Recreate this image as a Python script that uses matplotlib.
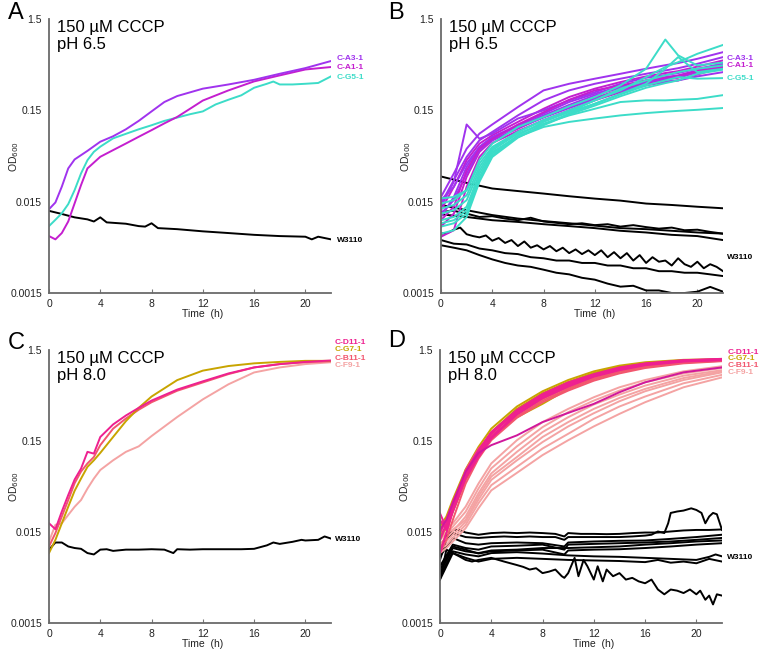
import numpy as np
import matplotlib
matplotlib.use('Agg')
import matplotlib.pyplot as plt

plt.rcParams['font.family'] = ['Liberation Sans', 'DejaVu Sans']

# ---------------- colours ----------------
VIOLET = '#A033EE'
MAGENTA = '#C41ECF'
TURQ = '#3CDCC8'
PINK = '#EE2090'
DMAG = '#D0189C'
GOLD = '#C8A400'
CORAL = '#F2566E'
LPINK = '#F4A3A3'
BLACK = '#000000'

# ---------------- axis ticks ----------------
y_ticks = [0.0015, 0.015, 0.15, 1.5]
y_tick_labels = ['0.0015', '0.015', '0.15', '1.5']
x_ticks = [0, 4, 8, 12, 16, 20]

# ================= Panel A =================
a_t_A3 = [0, 0.5, 1, 1.5, 2, 3, 4, 5, 6, 7, 8, 9, 10, 11, 12, 14, 16, 18, 20, 22]
a_A3 = [0.0124, 0.0147, 0.0219, 0.0347, 0.0435, 0.054, 0.068, 0.078, 0.093, 0.115,
        0.146, 0.185, 0.215, 0.236, 0.259, 0.288, 0.324, 0.377, 0.435, 0.52]
a_t_A1 = [0, 0.5, 1, 1.5, 2, 2.5, 3, 4, 5, 6, 7, 8, 9, 10, 11, 12, 14, 16, 18, 20, 22]
a_A1 = [0.0063, 0.0058, 0.0068, 0.0091, 0.0144, 0.0228, 0.0347, 0.0465, 0.055, 0.065,
        0.077, 0.091, 0.108, 0.127, 0.156, 0.192, 0.248, 0.311, 0.362, 0.42, 0.447]
a_t_G5 = [0, 0.5, 1, 1.5, 2, 2.5, 3, 3.5, 4, 5, 6, 7, 8, 9, 10, 11, 12, 13, 14, 15,
          16, 17, 17.5, 18, 19, 20, 21, 22]
a_G5 = [0.0081, 0.0095, 0.0112, 0.0141, 0.0201, 0.0306, 0.0427, 0.0527, 0.060, 0.074,
        0.083, 0.093, 0.103, 0.115, 0.125, 0.136, 0.146, 0.174, 0.196, 0.219,
        0.265, 0.293, 0.31, 0.288, 0.288, 0.293, 0.299, 0.353]
a_t_W = [0, 1, 2, 3, 3.5, 4, 4.5, 6, 7, 7.5, 8, 8.5, 10, 12, 14, 16, 18, 20, 20.5, 21, 22]
a_W = [0.0119, 0.011, 0.0101, 0.0096, 0.0091, 0.0101, 0.0089, 0.0086, 0.0081, 0.008,
       0.0087, 0.0077, 0.0075, 0.0071, 0.0068, 0.0065, 0.0063, 0.0062, 0.0058, 0.0062, 0.0058]

# ================= Panel B =================
b_t = [0, 1, 2, 3, 4, 6, 8, 10, 12, 14, 16, 17.5, 18.5, 20, 22]
b_P1 = [0.0169, 0.0305, 0.057, 0.0834, 0.105, 0.163, 0.248, 0.293, 0.333, 0.377, 0.428, 0.468, 0.494, 0.55, 0.65]
b_P2 = [0.0143, 0.0258, 0.0463, 0.0705, 0.087, 0.132, 0.193, 0.248, 0.293, 0.333, 0.377, 0.41, 0.434, 0.485, 0.574]
b_P3 = [0.0121, 0.0218, 0.0426, 0.0648, 0.080, 0.112, 0.156, 0.210, 0.259, 0.306, 0.353, 0.384, 0.403, 0.452, 0.528]
b_P4 = [0.0102, 0.0169, 0.036, 0.0596, 0.0767, 0.103, 0.138, 0.185, 0.228, 0.274, 0.319, 0.347, 0.362, 0.410, 0.494]
b_P5 = [0.0080, 0.0111, 0.028, 0.0526, 0.0705, 0.0945, 0.127, 0.166, 0.206, 0.252, 0.298, 0.325, 0.341, 0.393, 0.465]
b_P6 = [0.0062, 0.0073, 0.0218, 0.0463, 0.0659, 0.089, 0.117, 0.15, 0.193, 0.237, 0.281, 0.306, 0.319, 0.370, 0.446]
b_P7 = [0.0132, 0.0248, 0.105, 0.0733, 0.0834, 0.122, 0.15, 0.193, 0.237, 0.293, 0.341, 0.365, 0.384, 0.428, 0.485]
b_P8 = [0.0156, 0.0218, 0.0392, 0.0596, 0.0754, 0.100, 0.132, 0.172, 0.219, 0.265, 0.306, 0.33, 0.347, 0.389, 0.428]
b_P9 = [0.0111, 0.0156, 0.0305, 0.0548, 0.0705, 0.0965, 0.125, 0.159, 0.200, 0.244, 0.288, 0.309, 0.319, 0.353, 0.393]
b_P10 = [0.0094, 0.0132, 0.0331, 0.057, 0.073, 0.105, 0.143, 0.196, 0.248, 0.281, 0.319, 0.341, 0.358, 0.403, 0.452]
b_purple_series = [b_P1, b_P2, b_P3, b_P4, b_P5, b_P6, b_P7, b_P8, b_P9, b_P10]
b_purple_colors = [VIOLET, VIOLET, MAGENTA, VIOLET, MAGENTA, MAGENTA, VIOLET, VIOLET, VIOLET, MAGENTA]

b_T1 = [0.0163, 0.0169, 0.0200, 0.0426, 0.0648, 0.0986, 0.127, 0.166, 0.210, 0.281, 0.428, 0.894, 0.60, 0.465, 0.50]
b_T2 = [0.0143, 0.0156, 0.0200, 0.0392, 0.0596, 0.087, 0.117, 0.15, 0.193, 0.248, 0.347, 0.446, 0.505, 0.624, 0.78]
b_T3 = [0.0126, 0.0138, 0.0176, 0.036, 0.057, 0.087, 0.117, 0.144, 0.177, 0.228, 0.293, 0.428, 0.574, 0.393, 0.428]
b_T4 = [0.0111, 0.0121, 0.0156, 0.0331, 0.0548, 0.0834, 0.107, 0.132, 0.156, 0.185, 0.193, 0.193, 0.196, 0.20, 0.22]
b_T5 = [0.0094, 0.0102, 0.0132, 0.0305, 0.0526, 0.0767, 0.0986, 0.112, 0.122, 0.132, 0.14, 0.145, 0.148, 0.152, 0.159]
b_T6 = [0.0087, 0.0094, 0.0121, 0.028, 0.0504, 0.080, 0.112, 0.144, 0.193, 0.259, 0.319, 0.362, 0.393, 0.428, 0.465]
b_T7 = [0.0080, 0.0087, 0.0111, 0.0258, 0.0483, 0.0767, 0.105, 0.138, 0.177, 0.224, 0.281, 0.319, 0.347, 0.333, 0.338]
b_T8 = [0.0067, 0.0073, 0.0102, 0.0248, 0.0463, 0.0754, 0.103, 0.135, 0.169, 0.214, 0.265, 0.298, 0.319, 0.377, 0.418]
b_turq_series = [b_T1, b_T2, b_T3, b_T4, b_T5, b_T6, b_T7, b_T8]

b_t_2h = [0, 2, 4, 6, 8, 10, 12, 14, 16, 18, 20, 22]
b_t_1h = list(range(0, 23))
b_t_half = [i * 0.5 for i in range(45)]
b_K1 = [0.0283, 0.0241, 0.0209, 0.0196, 0.0184, 0.0172, 0.0162, 0.0154, 0.0143, 0.0138, 0.0132, 0.0127]
b_K2a = [0.0138, 0.0121, 0.0107, 0.0098, 0.0092, 0.0087, 0.0082, 0.0077, 0.0075, 0.0072, 0.0069, 0.0067]
b_K2b = [0.0116, 0.0119, 0.0111, 0.0102, 0.0104, 0.0098, 0.0094, 0.0100, 0.0091, 0.0088, 0.0085, 0.0087,
         0.0083, 0.0085, 0.0080, 0.0083, 0.0079, 0.0076, 0.0078, 0.0073, 0.0074, 0.0070, 0.0067]
b_K2c = [0.0109, 0.0102, 0.0094, 0.0090, 0.0085, 0.0081, 0.0077, 0.0072, 0.0069, 0.0065, 0.0063, 0.0057]
b_K3a = [0.0067, 0.0068, 0.0074, 0.0078, 0.0066, 0.0063, 0.0061, 0.0064, 0.0056, 0.0060,
         0.0053, 0.0057, 0.0049, 0.0055, 0.0047, 0.0050, 0.0045, 0.0049, 0.0043, 0.0047,
         0.0041, 0.0045, 0.0040, 0.0044, 0.0039, 0.0044, 0.0037, 0.0042, 0.0036, 0.0041,
         0.0034, 0.0039, 0.0032, 0.0037, 0.0033, 0.0034, 0.0030, 0.0036, 0.0031, 0.0029,
         0.0033, 0.0028, 0.0031, 0.0029, 0.0026]
b_K3b = [0.0057, 0.0052, 0.0051, 0.0046, 0.0044, 0.0041, 0.0040, 0.0037, 0.0036, 0.0034, 0.0034, 0.0032,
         0.0032, 0.0030, 0.0030, 0.0028, 0.0028, 0.0026, 0.0026, 0.0025, 0.0025, 0.0024, 0.0023]
b_K3c = [0.0050, 0.0047, 0.0044, 0.0039, 0.0035, 0.0032, 0.0030, 0.0029, 0.0027, 0.0025, 0.0024, 0.0022,
         0.0021, 0.0019, 0.00176, 0.0018, 0.0016, 0.0016, 0.0015, 0.0015, 0.00155, 0.00175, 0.00155]

# ================= Panel C =================
c_t = [0, 0.5, 1, 1.5, 2, 2.5, 3, 3.5, 4, 5, 6, 7, 8, 10, 12, 14, 16, 18, 20, 22]
c_D11 = [0.0187, 0.0161, 0.0252, 0.0382, 0.0566, 0.0747, 0.114, 0.109, 0.166, 0.228,
         0.286, 0.347, 0.417, 0.551, 0.679, 0.829, 0.965, 1.05, 1.11, 1.15]
c_G7 = [0.0088, 0.0123, 0.0187, 0.0284, 0.0426, 0.058, 0.078, 0.092, 0.111, 0.166,
        0.248, 0.347, 0.462, 0.70, 0.89, 1.0, 1.07, 1.11, 1.14, 1.14]
c_B11 = [0.0104, 0.0146, 0.0222, 0.0336, 0.0516, 0.0693, 0.085, 0.100, 0.135, 0.205,
         0.265, 0.331, 0.400, 0.535, 0.66, 0.815, 0.965, 1.05, 1.10, 1.13]
c_F9 = [0.0118, 0.018, 0.0187, 0.0231, 0.0284, 0.0337, 0.045, 0.058, 0.072, 0.092,
        0.114, 0.131, 0.17, 0.275, 0.43, 0.63, 0.85, 0.965, 1.05, 1.10]
c_t_W = [0, 0.5, 1, 1.5, 2, 2.5, 3, 3.5, 4, 4.5, 5, 6, 7, 8, 9, 9.7, 10, 11, 12, 13, 14, 15,
         16, 17, 17.5, 18, 19, 19.7, 20, 21, 21.5, 22]
c_W = [0.0096, 0.0115, 0.0115, 0.0104, 0.0100, 0.0098, 0.0088, 0.0085, 0.0096, 0.0097,
       0.0093, 0.0096, 0.0096, 0.0097, 0.0096, 0.0088, 0.0097, 0.0096, 0.0097, 0.0097,
       0.0097, 0.0097, 0.0098, 0.0107, 0.0115, 0.0111, 0.0117, 0.0123, 0.0121, 0.0123,
       0.0134, 0.0127]

# ================= Panel D =================
d_t = [0, 0.5, 1, 2, 3, 4, 6, 8, 10, 12, 14, 16, 19, 22]
d_P1 = [0.0146, 0.0204, 0.032, 0.069, 0.119, 0.188, 0.33, 0.494, 0.662, 0.816, 0.966, 1.07, 1.16, 1.20]
d_P2 = [0.0204, 0.0159, 0.0285, 0.065, 0.111, 0.180, 0.32, 0.474, 0.635, 0.795, 0.94, 1.05, 1.14, 1.18]
d_P3 = [0.0123, 0.0187, 0.031, 0.067, 0.115, 0.183, 0.324, 0.482, 0.646, 0.80, 0.95, 1.06, 1.15, 1.19]
d_P4 = [0.0088, 0.0146, 0.0262, 0.061, 0.105, 0.166, 0.303, 0.454, 0.609, 0.777, 0.92, 1.04, 1.13, 1.17]
d_P5 = [0.0241, 0.0165, 0.0251, 0.058, 0.100, 0.159, 0.293, 0.443, 0.594, 0.765, 0.90, 1.02, 1.12, 1.16]
d_P6 = [0.0159, 0.0204, 0.031, 0.069, 0.111, 0.135, 0.173, 0.242, 0.305, 0.384, 0.515, 0.662, 0.852, 0.966]
d_G1 = [0.0172, 0.0222, 0.034, 0.073, 0.129, 0.205, 0.359, 0.528, 0.702, 0.874, 1.01, 1.10, 1.17, 1.19]
d_G2 = [0.0134, 0.0172, 0.0273, 0.065, 0.117, 0.188, 0.338, 0.503, 0.668, 0.84, 0.98, 1.08, 1.15, 1.18]
d_G3 = [0.0134, 0.0165, 0.0251, 0.056, 0.100, 0.166, 0.274, 0.384, 0.56, 0.75, 0.92, 1.05, 1.13, 1.17]
d_C1 = [0.0123, 0.0172, 0.0285, 0.066, 0.117, 0.180, 0.311, 0.462, 0.625, 0.783, 0.927, 1.05, 1.13, 1.17]
d_C2 = [0.0096, 0.0146, 0.0251, 0.057, 0.105, 0.163, 0.293, 0.435, 0.584, 0.738, 0.888, 1.00, 1.11, 1.15]
d_C3 = [0.0187, 0.0204, 0.0285, 0.072, 0.124, 0.173, 0.279, 0.417, 0.56, 0.714, 0.86, 0.975, 1.09, 1.14]
d_C4 = [0.0088, 0.0123, 0.0204, 0.051, 0.096, 0.153, 0.270, 0.40, 0.537, 0.69, 0.83, 0.95, 1.07, 1.13]
d_L1 = [0.0146, 0.0165, 0.0187, 0.0285, 0.051, 0.085, 0.153, 0.242, 0.338, 0.454, 0.584, 0.702, 0.874, 0.995]
d_L2 = [0.0123, 0.0146, 0.0172, 0.0251, 0.045, 0.075, 0.131, 0.213, 0.311, 0.417, 0.537, 0.662, 0.83, 0.95]
d_L3 = [0.0113, 0.0129, 0.0152, 0.0222, 0.040, 0.066, 0.114, 0.188, 0.274, 0.378, 0.486, 0.609, 0.783, 0.90]
d_L4 = [0.0134, 0.0146, 0.0159, 0.0204, 0.037, 0.061, 0.100, 0.166, 0.242, 0.338, 0.446, 0.56, 0.738, 0.874]
d_L5 = [0.0104, 0.0118, 0.014, 0.0195, 0.034, 0.056, 0.092, 0.146, 0.217, 0.303, 0.41, 0.528, 0.702, 0.852]
d_L6 = [0.0096, 0.0108, 0.0129, 0.018, 0.031, 0.049, 0.078, 0.124, 0.18, 0.263, 0.359, 0.462, 0.646, 0.80]
d_L7 = [0.0088, 0.010, 0.0118, 0.0165, 0.0273, 0.043, 0.067, 0.105, 0.153, 0.217, 0.298, 0.40, 0.584, 0.75]

d_t_K1 = [0, 0.5, 1, 1.5, 2, 3, 4, 5, 6, 7, 8, 9, 9.7, 10, 11, 12, 13, 14, 15, 16, 17, 18, 19, 20, 21, 22]
d_K1 = [0.0081, 0.0134, 0.0158, 0.0158, 0.0148, 0.0140, 0.0146, 0.0148, 0.0146, 0.0148, 0.0146, 0.0143, 0.0134,
        0.0146, 0.0143, 0.0143, 0.0142, 0.0143, 0.0146, 0.0148, 0.0148, 0.0152, 0.0156, 0.0158, 0.0158, 0.0160]
d_t_K2 = [0, 0.5, 1, 2, 3, 4, 5, 6, 7, 8, 9, 9.7, 10, 11, 12, 13, 14, 15, 16, 16.5, 17, 17.5, 17.8, 18,
          18.5, 19, 19.6, 20, 20.4, 20.7, 21, 21.3, 21.6, 22]
d_K2 = [0.0074, 0.0123, 0.0146, 0.0132, 0.0129, 0.0132, 0.0134, 0.0132, 0.0134, 0.0132, 0.0132, 0.0123,
        0.0132, 0.0132, 0.0132, 0.0132, 0.0132, 0.0134, 0.0137, 0.0140, 0.0152, 0.0146, 0.0187, 0.0243,
        0.0252, 0.0258, 0.0273, 0.0262, 0.0243, 0.0187, 0.0222, 0.0243, 0.0235, 0.0158]
d_t_K34 = [0, 1, 2, 3, 4, 6, 8, 9.7, 10, 12, 14, 16, 18, 20, 22]
d_K3 = [0.0081, 0.0129, 0.0113, 0.0109, 0.0113, 0.0115, 0.0113, 0.0104, 0.0115, 0.0118, 0.0120, 0.0121, 0.0126, 0.0132, 0.0140]
d_K4 = [0.0063, 0.0109, 0.0100, 0.0096, 0.0104, 0.0106, 0.0109, 0.0096, 0.0109, 0.0111, 0.0113, 0.0115, 0.0118, 0.0123, 0.0129]
d_K9 = [0.0058, 0.0104, 0.0096, 0.0087, 0.0092, 0.0094, 0.0096, 0.0085, 0.0094, 0.0096, 0.0097, 0.0100, 0.0104, 0.0109, 0.0113]
d_t_K5 = [0, 1, 2, 3, 4, 6, 8, 10, 12, 14, 16, 18, 20, 22]
d_K5 = [0.0053, 0.0100, 0.0092, 0.0088, 0.0094, 0.0096, 0.0100, 0.0100, 0.0102, 0.0104, 0.0109, 0.0113, 0.0118, 0.0121]
d_t_K6 = [0, 1, 2, 3, 4, 6, 8, 10, 12, 14, 16, 18, 20, 21, 21.5, 22]
d_K6 = [0.0049, 0.0092, 0.0085, 0.0081, 0.0088, 0.0090, 0.0087, 0.0083, 0.0081, 0.0080, 0.0078, 0.0076, 0.0074, 0.0080, 0.0085, 0.0081]
d_t_K7 = [0, 1, 2, 3, 4, 6, 8, 10, 12, 14, 16, 17, 18, 19, 20, 21, 22]
d_K7 = [0.0045, 0.0088, 0.0078, 0.0071, 0.0076, 0.0078, 0.0076, 0.0074, 0.0073, 0.0072, 0.0070, 0.0074, 0.0069, 0.0071, 0.0068, 0.0076, 0.0071]
d_t_K8 = [0, 0.5, 1, 1.5, 2, 2.5, 3, 3.5, 4, 5, 6, 6.5, 7, 7.5, 8, 8.5, 9, 9.5, 9.7, 10,
          10.5, 10.8, 11.2, 11.5, 12, 12.3, 12.7, 13, 13.5, 14, 14.5, 15, 15.5, 16, 16.5, 17, 17.5, 18, 18.5, 19,
          19.5, 20, 20.3, 20.7, 21, 21.3, 21.6, 22]
d_K8 = [0.0045, 0.0096, 0.0088, 0.0081, 0.0074, 0.0071, 0.0074, 0.0076, 0.0078, 0.0071,
        0.0065, 0.0062, 0.0058, 0.0060, 0.0053, 0.0055, 0.0058, 0.0049, 0.0047, 0.0053,
        0.0078, 0.0049, 0.0074, 0.0063, 0.0045, 0.0063, 0.0043, 0.0058, 0.0049, 0.0053,
        0.0045, 0.0047, 0.0043, 0.0041, 0.0045, 0.0035, 0.0031, 0.0035, 0.0034, 0.0032,
        0.0035, 0.0031, 0.0034, 0.0027, 0.0030, 0.0024, 0.0031, 0.0030]

# ---------------- labels ----------------
cond_65 = '150 \u00b5M CCCP\npH 6.5'
cond_80 = '150 \u00b5M CCCP\npH 8.0'
labels_A = [('C-A3-1', 0.56, VIOLET), ('C-A1-1', 0.447, MAGENTA), ('C-G5-1', 0.347, TURQ), ('W3110', 0.0056, BLACK)]
labels_B = [('C-A3-1', 0.56, VIOLET), ('C-A1-1', 0.465, MAGENTA), ('C-G5-1', 0.338, TURQ), ('W3110', 0.0037, BLACK)]
labels_C = [('C-D11-1', 1.81, PINK), ('C-G7-1', 1.53, GOLD), ('C-B11-1', 1.22, CORAL), ('C-F9-1', 1.01, LPINK), ('W3110', 0.0125, BLACK)]
labels_D = [('C-D11-1', 1.41, PINK), ('C-G7-1', 1.22, GOLD), ('C-B11-1', 1.01, CORAL), ('C-F9-1', 0.852, LPINK), ('W3110', 0.0078, BLACK)]

# ---------------- figure ----------------
fig = plt.figure(figsize=(7.6, 6.5), dpi=100)
W, H = 760.0, 650.0
def add_ax(l, t, r, b):
    return fig.add_axes([l / W, 1 - b / H, (r - l) / W, (b - t) / H])

axA = add_ax(49, 19, 331, 293)
axB = add_ax(441, 19, 723, 293)
axC = add_ax(49, 350, 331, 623)
axD = add_ax(440, 350, 722, 623)

LW = 1.4

def style(ax, cond, labels, lx):
    ax.set_yscale('log')
    ax.set_ylim(0.0015, 1.5)
    ax.set_xlim(0, 22)
    ax.set_yticks(y_ticks)
    ax.set_yticklabels(y_tick_labels)
    ax.yaxis.set_minor_locator(matplotlib.ticker.NullLocator())
    ax.set_xticks(x_ticks)
    ax.tick_params(axis='y', length=0, labelsize=7.5, pad=5, labelcolor='#222222')
    ax.tick_params(axis='x', length=3, direction='in', labelsize=7.5, pad=4,
                   color='#777777', labelcolor='#222222')
    for s in ['top', 'right']:
        ax.spines[s].set_visible(False)
    for s in ['left', 'bottom']:
        ax.spines[s].set_color('#6a6a6a')
        ax.spines[s].set_linewidth(1.3)
    ax.set_xlabel('Time  (h)', fontsize=7.5, color='#222222')
    ax.xaxis.set_label_coords(12 / 22, -0.06)
    ax.set_ylabel('OD$_{600}$', fontsize=7.5, color='#222222')
    ax.yaxis.set_label_coords(-0.10, 0.5)
    ax.text(0.03, 0.998, cond, transform=ax.transAxes, va='top', ha='left',
            fontsize=12, linespacing=1.2)
    for txt, yv, col in labels:
        ax.text(lx, yv, txt, color=col, fontsize=6, fontweight='bold',
                va='center', ha='left', clip_on=False)

# Panel A
axA.plot(a_t_W, a_W, color=BLACK, lw=LW)
axA.plot(a_t_G5, a_G5, color=TURQ, lw=LW)
axA.plot(a_t_A1, a_A1, color=MAGENTA, lw=LW)
axA.plot(a_t_A3, a_A3, color=VIOLET, lw=LW)
style(axA, cond_65, labels_A, 22.45)

# Panel B
axB.plot(b_t_2h, b_K1, color=BLACK, lw=LW)
axB.plot(b_t_2h, b_K2a, color=BLACK, lw=LW)
axB.plot(b_t_1h, b_K2b, color=BLACK, lw=LW)
axB.plot(b_t_2h, b_K2c, color=BLACK, lw=LW)
axB.plot(b_t_half, b_K3a, color=BLACK, lw=LW)
axB.plot(b_t_1h, b_K3b, color=BLACK, lw=LW)
axB.plot(b_t_1h, b_K3c, color=BLACK, lw=LW)
for ser, col in zip(b_purple_series, b_purple_colors):
    axB.plot(b_t, ser, color=col, lw=LW)
for ser in b_turq_series:
    axB.plot(b_t, ser, color=TURQ, lw=LW)
style(axB, cond_65, labels_B, 22.3)

# Panel C
axC.plot(c_t_W, c_W, color=BLACK, lw=LW)
axC.plot(c_t, c_F9, color=LPINK, lw=LW)
axC.plot(c_t, c_B11, color=CORAL, lw=LW)
axC.plot(c_t, c_G7, color=GOLD, lw=LW)
axC.plot(c_t, c_D11, color=PINK, lw=LW)
style(axC, cond_80, labels_C, 22.3)

# Panel D
axD.plot(d_t_K1, d_K1, color=BLACK, lw=LW)
axD.plot(d_t_K2, d_K2, color=BLACK, lw=LW)
axD.plot(d_t_K34, d_K3, color=BLACK, lw=LW)
axD.plot(d_t_K34, d_K4, color=BLACK, lw=LW)
axD.plot(d_t_K34, d_K9, color=BLACK, lw=LW)
axD.plot(d_t_K5, d_K5, color=BLACK, lw=LW)
axD.plot(d_t_K6, d_K6, color=BLACK, lw=LW)
axD.plot(d_t_K7, d_K7, color=BLACK, lw=LW)
axD.plot(d_t_K8, d_K8, color=BLACK, lw=LW)
for ser in [d_L1, d_L2, d_L3, d_L4, d_L5, d_L6, d_L7]:
    axD.plot(d_t, ser, color=LPINK, lw=LW)
for ser in [d_G1, d_G2, d_G3]:
    axD.plot(d_t, ser, color=GOLD, lw=LW)
for ser in [d_C1, d_C2, d_C3, d_C4]:
    axD.plot(d_t, ser, color=CORAL, lw=LW)
for ser in [d_P1, d_P2, d_P3, d_P4, d_P5]:
    axD.plot(d_t, ser, color=PINK, lw=LW)
axD.plot(d_t, d_P6, color=DMAG, lw=LW)
style(axD, cond_80, labels_D, 22.4)

# panel letters
for letter, x, y in [('A', 8, 2), ('B', 388, 2), ('C', 8, 332), ('D', 388, 330)]:
    fig.text(x / W, 1 - y / H, letter, fontsize=17, va='top', ha='left')

fig.savefig('out.png', dpi=100)
